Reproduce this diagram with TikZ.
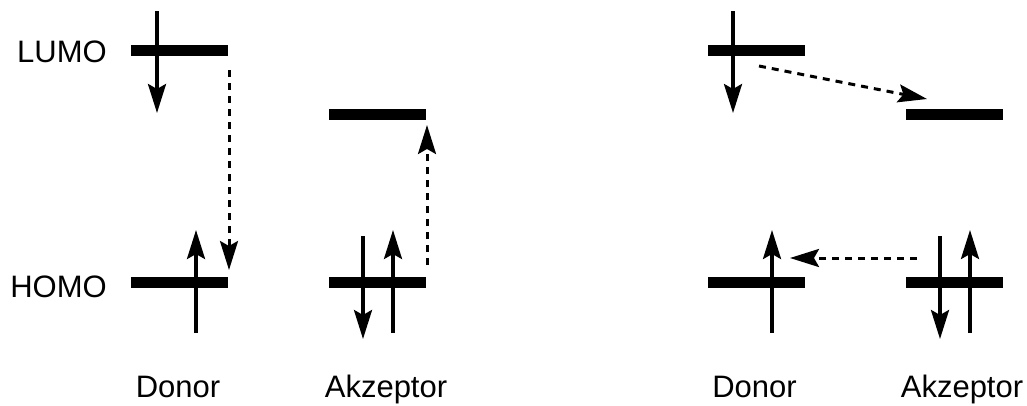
\documentclass[tikz,border=0pt]{standalone}
\usepackage{fontspec}
\setmainfont{Liberation Sans}
\usetikzlibrary{arrows.meta}
\begin{document}
\begin{tikzpicture}[x=1pt,y=-1pt,
  level/.style={fill=black,draw=none,minimum width=97pt,minimum height=11pt,inner sep=0pt,outer sep=0pt},
  spin/.style={line width=3.3pt,-{Stealth[length=29pt,width=18pt,inset=5pt]}},
  transfer/.style={line width=3pt,dash pattern=on 7pt off 6pt,-{Stealth[length=29pt,width=18pt,inset=5pt]}},
  lbl/.style={font=\fontsize{31}{36}\selectfont,inner sep=0pt}]
\useasboundingbox (0,0) rectangle (1027,405);
% levels
\node[level] (DL) at (179.5,50.5) {};
\node[level] (DH) at (179.5,282.5) {};
\node[level] (AL) at (377.5,114) {};
\node[level] (AH) at (377.5,282.5) {};
\node[level] (DL2) at (756.5,50.5) {};
\node[level] (DH2) at (756.5,282.5) {};
\node[level] (AL2) at (954.5,114) {};
\node[level] (AH2) at (954.5,282.5) {};
% labels
\node[lbl,anchor=base east] (lumo) at (107,62.5) {LUMO};
\node[lbl,anchor=base east] (homo) at (107,297.5) {HOMO};
\node[lbl,anchor=base] (don1) at (178,397.5) {Donor};
\node[lbl,anchor=base] (akz1) at (386,397.5) {Akzeptor};
\node[lbl,anchor=base] (don2) at (754.5,397.5) {Donor};
\node[lbl,anchor=base] (akz2) at (962,397.5) {Akzeptor};
% spin arrows
\coordinate (s1a) at (157,11);  \coordinate (s1b) at (157,113);
\coordinate (s2a) at (196,333); \coordinate (s2b) at (196,230);
\coordinate (s3a) at (363,236); \coordinate (s3b) at (363,339);
\coordinate (s4a) at (393,333); \coordinate (s4b) at (393,230);
\coordinate (s5a) at (733,11);  \coordinate (s5b) at (733,113);
\coordinate (s6a) at (772,333); \coordinate (s6b) at (772,230);
\coordinate (s7a) at (940,236); \coordinate (s7b) at (940,339);
\coordinate (s8a) at (970,333); \coordinate (s8b) at (970,230);
\foreach \i in {1,...,8} {\draw[spin] (s\i a) -- (s\i b);}
% transfers
\coordinate (t1a) at (229,70);  \coordinate (t1b) at (229,270);
\coordinate (t2a) at (427,265); \coordinate (t2b) at (427,125);
\coordinate (t3a) at (759,66);  \coordinate (t3b) at (927,99);
\coordinate (t4a) at (917,258); \coordinate (t4b) at (790,258);
\foreach \i in {1,...,4} {\draw[transfer] (t\i a) -- (t\i b);}
\end{tikzpicture}
\end{document}
